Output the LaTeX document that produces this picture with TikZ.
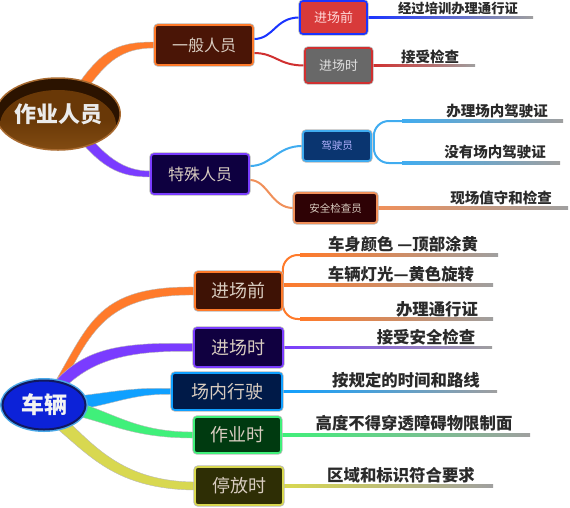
\documentclass[tikz,border=0pt]{standalone}
\usepackage{fontspec}
\setmainfont{Noto Sans CJK SC}
\usetikzlibrary{calc,shapes.geometric,backgrounds}
\definecolor{boxtxt}{HTML}{D8CCC0}
\definecolor{leaftxt}{HTML}{2A2A2A}
\definecolor{corange}{HTML}{FF7A2A}
\definecolor{cpurple}{HTML}{7A3CFF}
\definecolor{cblue}{HTML}{10A0FF}
\definecolor{cgreen}{HTML}{40F07A}
\definecolor{cyellow}{HTML}{D8D850}
\definecolor{cdblue}{HTML}{1A34FF}
\definecolor{cred}{HTML}{D03030}
\definecolor{clblue}{HTML}{40ACF0}
\definecolor{csalmon}{HTML}{F0905A}
\definecolor{gfa}{HTML}{4A1506}
\definecolor{gfb}{HTML}{0E0040}
\definecolor{afa}{HTML}{D83A3A}
\definecolor{afb}{HTML}{686868}
\definecolor{afc}{HTML}{0A3570}
\definecolor{afd}{HTML}{2E0205}
\definecolor{bfa}{HTML}{3E1205}
\definecolor{bfb}{HTML}{100040}
\definecolor{bfc}{HTML}{001A48}
\definecolor{bfd}{HTML}{003A10}
\definecolor{bfe}{HTML}{2E2E05}
\definecolor{rbtop}{HTML}{2B1300}
\definecolor{rbmid}{HTML}{693807}
\definecolor{rbbot}{HTML}{8A5216}
\definecolor{rbedge}{HTML}{A86A30}
\definecolor{rvfill}{HTML}{0C22D8}
\definecolor{rvring}{HTML}{4AA8E8}
\definecolor{rvdark}{HTML}{101860}
\newcommand\fs[1]{\fontsize{#1}{#1}\selectfont}
\newcommand\branch[7]{\fill[#1, draw=gray!55, line width=0.4pt]
  ($#2+(0,-#6)$) .. controls ($#3+(0,-#6)$) and ($#4+(0,-#7)$) .. ($#5+(0,-#7)$)
  -- ($#5+(0,#7)$) .. controls ($#4+(0,#7)$) and ($#3+(0,#6)$) .. ($#2+(0,#6)$) -- cycle;}
\newcommand\leafline[3]{\shade[left color=#1, right color=gray!75]
  ($#2+(0,-1.1)$) rectangle ($#3+(0,1.1)$);}
\begin{document}
\begin{tikzpicture}[x=1pt,y=-1pt,
  box/.style={rounded corners=3pt, line width=1.6pt, inner sep=0pt, text=boxtxt,
    preaction={draw=gray!55, line width=3.2pt}},
  leaf/.style={text=leaftxt, inner sep=0pt, font=\fs{14.5}\bfseries},
  bleaf/.style={text=leaftxt, inner sep=0pt, font=\fs{16.4}\bfseries},
  conn/.style={line width=2pt}]
\useasboundingbox (0,0) rectangle (570,507);

% ---------- upper tree ----------
\node[ellipse, minimum width=112pt, minimum height=72pt, inner sep=0pt,
  fill=rbtop, draw=rbedge, line width=1.5pt,
  path picture={\shade[top color=rbmid, bottom color=rbbot, middle color=rbmid]
     ($(path picture bounding box.center)+(0,11)$) ellipse [x radius=58, y radius=35];},
  text=white!92!black, font=\fs{22}\bfseries] (r1) at (58,114) {作业人员};

\node[box, fill=gfa, draw=corange, minimum width=98pt, minimum height=40pt, font=\fs{16}] (g1) at (204,45) {一般人员};
\node[box, fill=gfb, draw=cpurple, minimum width=98pt, minimum height=40pt, font=\fs{16}] (g2) at (200,174) {特殊人员};

\node[box, fill=afa, draw=cdblue, minimum width=67pt, minimum height=33pt, font=\fs{13}, text=white!85!red] (a1) at (333.5,17.5) {进场前};
\node[box, fill=afb, draw=cred, minimum width=67pt, minimum height=35pt, font=\fs{13}, text=white!88!black] (a2) at (338.5,65.5) {进场时};
\node[box, fill=afc, draw=clblue, minimum width=68pt, minimum height=30pt, font=\fs{10.5}, text=white!70!blue] (a3) at (337,146) {驾驶员};
\node[box, fill=afd, draw=csalmon, minimum width=83pt, minimum height=30pt, font=\fs{10.5}] (a4) at (335.5,208) {安全检查员};

\coordinate (e1) at (533,17.5);
\coordinate (e2) at (475,65.5);
\coordinate (d1s) at (402,121);
\coordinate (d1e) at (563,121);
\coordinate (d2s) at (402,163);
\coordinate (d2e) at (560,163);
\coordinate (e4) at (568,208);

\node[leaf, font=\fs{13.3}\bfseries] (l1) at (458,8) {经过培训办理通行证};
\node[leaf] (l2) at (430,57) {接受检查};
\node[leaf] (l3) at (497,111) {办理场内驾驶证};
\node[leaf] (l4) at (495,152) {没有场内驾驶证};
\node[leaf] (l5) at (501,198) {现场值守和检查};

% ---------- lower tree ----------
\node[ellipse, minimum width=83pt, minimum height=49pt, inner sep=0pt,
  fill=rvfill, draw=rvdark, line width=2pt, preaction={draw=rvring, line width=5pt},
  text=white!95!black, font=\fs{23}\bfseries] (r2) at (44,405) {车辆};

\node[box, fill=bfa, draw=corange, minimum width=87pt, minimum height=38pt, font=\fs{18}] (b1) at (238.5,291) {进场前};
\node[box, fill=bfb, draw=cpurple, minimum width=89pt, minimum height=39pt, font=\fs{18}] (b2) at (238.5,347.5) {进场时};
\node[box, fill=bfc, draw=cblue, minimum width=110pt, minimum height=37pt, font=\fs{18}] (b3) at (227,391.5) {场内行驶};
\node[box, fill=bfd, draw=cgreen, minimum width=87pt, minimum height=36pt, font=\fs{18}] (b4) at (237.5,435) {作业时};
\node[box, fill=bfe, draw=cyellow, minimum width=88pt, minimum height=38pt, font=\fs{18}] (b5) at (239,486) {停放时};

\coordinate (t1s) at (300,255);
\coordinate (t1e) at (498,255);
\coordinate (t2e) at (493,285);
\coordinate (t3s) at (300,319);
\coordinate (t3e) at (493,319);
\coordinate (f2) at (492,347.5);
\coordinate (f3) at (497,391.5);
\coordinate (f4) at (530,435);
\coordinate (f5) at (493,486);

\node[bleaf] (m1) at (403,244) {车身颜色 —顶部涂黄};
\node[bleaf] (m2) at (401,274) {车辆灯光—黄色旋转};
\node[bleaf] (m3) at (437,309) {办理通行证};
\node[bleaf] (m4) at (426,337) {接受安全检查};
\node[bleaf] (m5) at (406,380) {按规定的时间和路线};
\node[bleaf] (m6) at (414,423) {高度不得穿透障碍物限制面};
\node[bleaf] (m7) at (401,475) {区域和标识符合要求};

\begin{pgfonlayer}{background}
  % upper branches
  \branch{corange}{(r1)+(12,-9)}{(r1)+(42,-54)}{(g1.west)+(-40,0)}{(g1.west)}{9}{3}
  \branch{cpurple}{(r1)+(12,6)}{(r1)+(42,46)}{(g2.west)+(-31,0)}{(g2.west)}{8}{3}
  \draw[conn, cdblue] ($(g1.east)+(0,-6)$) .. controls +(20,0) and +(-24,0) .. (a1.west);
  \draw[conn, cred] ($(g1.east)+(0,8)$) .. controls +(22,0) and +(-26,0) .. (a2.west);
  \draw[conn, clblue] ($(g2.east)+(0,-8)$) .. controls +(22,0) and +(-26,0) .. (a3.west);
  \draw[conn, csalmon] ($(g2.east)+(0,6)$) .. controls +(18,0) and +(-22,0) .. (a4.west);
  \leafline{cdblue}{(a1.east)}{(e1)}
  \leafline{cred}{(a2.east)}{(e2)}
  \draw[conn, clblue, rounded corners=15pt] (d1s) -- ($(d1s -| a3.east)+(2,0)$) -- ($(d2s -| a3.east)+(2,0)$) -- (d2s);
  \leafline{clblue}{(d1s)}{(d1e)}
  \leafline{clblue}{(d2s)}{(d2e)}
  \leafline{csalmon}{(a4.east)}{(e4)}
  % lower branches
  \branch{corange}{(r2)+(11,-15)}{(r2)+(46,-75)}{(b1.west)+(-95,-1)}{(b1.west)}{8}{4}
  \branch{cpurple}{(r2)+(6,-10)}{(r2)+(36,-45)}{(b2.west)+(-84,-2)}{(b2.west)}{8}{4}
  \branch{cblue}{(r2)+(16,0)}{(r2)+(66,-5)}{(b3.west)+(-42,-1.5)}{(b3.west)}{7}{3}
  \branch{cgreen}{(r2)+(16,0)}{(r2)+(66,10)}{(b4.west)+(-64,0)}{(b4.west)}{7}{3}
  \branch{cyellow}{(r2)+(1,5)}{(r2)+(41,35)}{(b5.west)+(-85,-1)}{(b5.west)}{9}{4}
  \draw[conn, corange, rounded corners=15pt] (t1s) -- (t1s -| b1.east) -- (t3s -| b1.east) -- (t3s);
  \leafline{corange}{(t1s)}{(t1e)}
  \leafline{corange}{(b1.east |- t2e)}{(t2e)}
  \leafline{corange}{(t3s)}{(t3e)}
  \leafline{cpurple}{(b2.east)}{(f2)}
  \leafline{cblue}{(b3.east)}{(f3)}
  \leafline{cgreen}{(b4.east)}{(f4)}
  \leafline{cyellow}{(b5.east)}{(f5)}
\end{pgfonlayer}
\end{tikzpicture}
\end{document}
